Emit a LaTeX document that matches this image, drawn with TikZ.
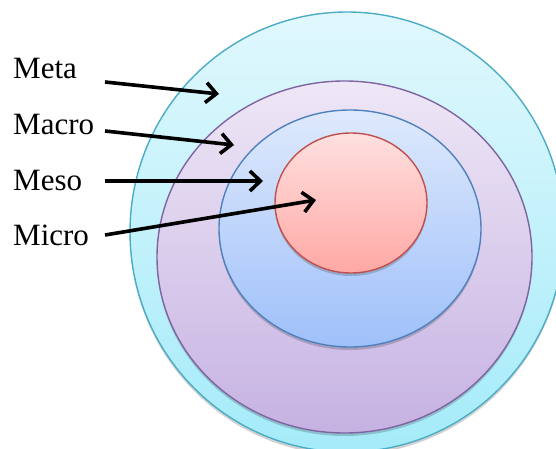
\documentclass[tikz,border=0pt]{standalone}
\usepackage{fontspec}
\setmainfont{Liberation Serif}
\usetikzlibrary{arrows.meta,shadows}

% Office-style ring colours
\definecolor{metaline}{HTML}{4BACC6}
\definecolor{metatop}{HTML}{E0F8FD}
\definecolor{metabot}{HTML}{A5EBF9}
\definecolor{macroline}{HTML}{8064A2}
\definecolor{macrotop}{HTML}{EEE7F6}
\definecolor{macrobot}{HTML}{C6B2E2}
\definecolor{mesoline}{HTML}{4F81BD}
\definecolor{mesotop}{HTML}{DEE9FC}
\definecolor{mesobot}{HTML}{9FC0FA}
\definecolor{microline}{HTML}{C0504D}
\definecolor{microtop}{HTML}{FFE0E0}
\definecolor{microbot}{HTML}{FFA8A4}

\tikzset{
  ring/.style={line width=1.4pt,
    drop shadow={shadow xshift=0pt, shadow yshift=-3pt, opacity=0.18, fill=black}},
  levellabel/.style={anchor=base west, inner sep=0pt,
    font=\fontsize{31}{36}\selectfont},
  pointer/.style={line width=3.6pt, -{Straight Barb[length=10.5pt, width=20pt]}}
}

\begin{document}
\begin{tikzpicture}[x=1pt, y=-1pt]

  \clip (0,0) rectangle (556,449);
  \useasboundingbox (0,0) rectangle (556,449);

  % ── Nested levels, outermost first ─────────────────────────────────
  \shade[ring, draw=metaline, top color=metatop, bottom color=metabot]
    (347,232) ellipse [x radius=217, y radius=220];
  \shade[ring, draw=macroline, top color=macrotop, bottom color=macrobot]
    (344.5,257) ellipse [x radius=187.5, y radius=176];
  \shade[ring, draw=mesoline, top color=mesotop, bottom color=mesobot]
    (350,228.5) ellipse [x radius=131, y radius=118.5];
  \shade[ring, draw=microline, top color=microtop, bottom color=microbot]
    (351,203) ellipse [x radius=76, y radius=70];

  % ── Level names ────────────────────────────────────────────────────
  \node[levellabel] (meta)  at (13,79)  {Meta};
  \node[levellabel] (macro) at (13,135) {Macro};
  \node[levellabel] (meso)  at (13,190) {Meso};
  \node[levellabel] (micro) at (13,245) {Micro};

  % arrow tails and tips
  \coordinate (metaT)  at (105,82);
  \coordinate (macroT) at (105,131);
  \coordinate (mesoT)  at (105,181);
  \coordinate (microT) at (105,235);
  \coordinate (metaH)  at (219,94);
  \coordinate (macroH) at (234,145);
  \coordinate (mesoH)  at (263,181);
  \coordinate (microH) at (316,200);

  % ── Pointers into each ring ────────────────────────────────────────
  \foreach \lvl in {meta,macro,meso,micro} {
    \draw[pointer] (\lvl T) -- (\lvl H);
  }

\end{tikzpicture}
\end{document}
